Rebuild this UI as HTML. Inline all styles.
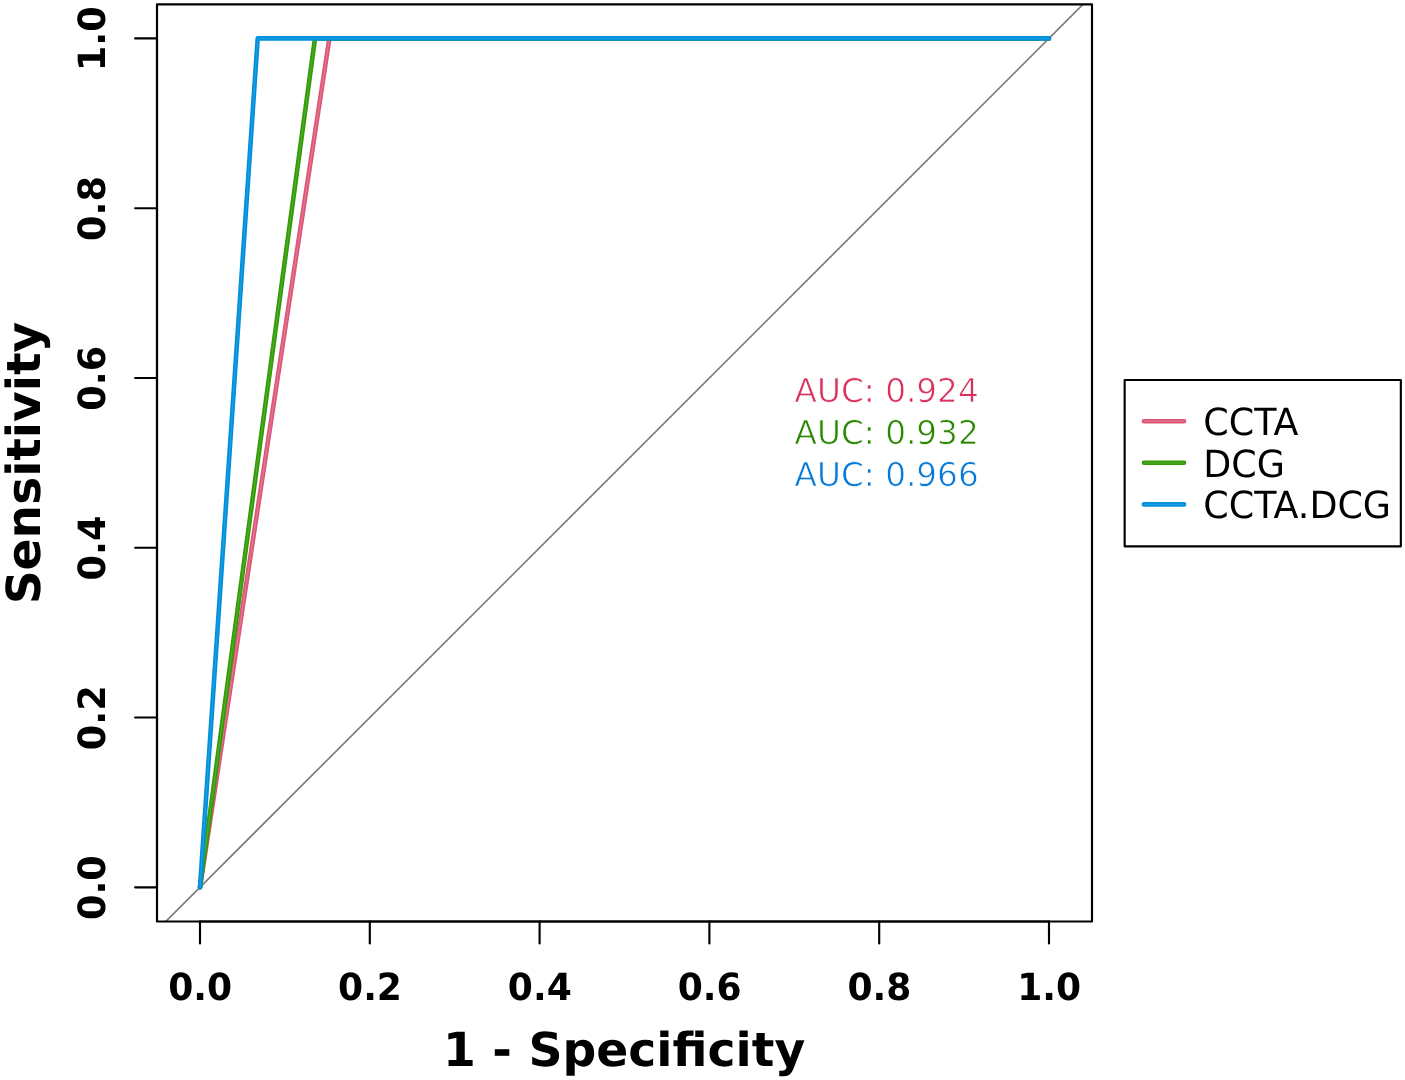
<!DOCTYPE html>
<html lang="en"><head><meta charset="utf-8"><title>ROC curves</title>
<style>
html,body{margin:0;padding:0;background:#fff;}
body{width:1405px;height:1080px;overflow:hidden;}
svg{display:block;}
text{font-family:"DejaVu Sans","Liberation Sans",sans-serif;text-rendering:geometricPrecision;}
.b{font-weight:bold;}
.ax{stroke:#000;stroke-width:2.15;stroke-linecap:round;fill:none;}
</style></head><body>
<svg width="1405" height="1080" viewBox="0 0 1405 1080">
<rect x="0" y="0" width="1405" height="1080" fill="#ffffff"/>
<defs><clipPath id="pc"><rect x="157.0" y="4.3" width="935.0" height="917.2"/></clipPath></defs>
<g clip-path="url(#pc)"><line x1="140.0" y1="947.3" x2="1109.0" y2="-21.6" stroke="#7c7c7c" stroke-width="1.7"/></g>
<polyline points="200.0,887.3 329.4,38.4 1049.0,38.4" fill="none" stroke="#DB5577" stroke-width="4.6" stroke-linecap="round" stroke-linejoin="round"/>
<polyline points="200.0,887.3 329.4,38.4 1049.0,38.4" fill="none" stroke="#E88DA5" stroke-width="1.3" stroke-opacity="0.6" stroke-linecap="round" stroke-linejoin="round"/>
<polyline points="200.0,887.3 315.0,38.4 1049.0,38.4" fill="none" stroke="#319A06" stroke-width="4.6" stroke-linecap="round" stroke-linejoin="round"/>
<polyline points="200.0,887.3 315.0,38.4 1049.0,38.4" fill="none" stroke="#66B83C" stroke-width="1.3" stroke-opacity="0.6" stroke-linecap="round" stroke-linejoin="round"/>
<polyline points="200.0,887.3 257.7,38.4 1049.0,38.4" fill="none" stroke="#028FDA" stroke-width="4.6" stroke-linecap="round" stroke-linejoin="round"/>
<polyline points="200.0,887.3 257.7,38.4 1049.0,38.4" fill="none" stroke="#2FA6E6" stroke-width="1.3" stroke-opacity="0.6" stroke-linecap="round" stroke-linejoin="round"/>
<rect class="ax" x="157.0" y="4.3" width="935.0" height="917.2" stroke-linejoin="round"/>
<line class="ax" x1="200.0" y1="921.5" x2="1049.0" y2="921.5"/>
<line class="ax" x1="157.0" y1="887.3" x2="157.0" y2="38.4"/>
<line class="ax" x1="200.0" y1="921.5" x2="200.0" y2="943.4"/>
<line class="ax" x1="157.0" y1="887.3" x2="135.1" y2="887.3"/>
<line class="ax" x1="369.8" y1="921.5" x2="369.8" y2="943.4"/>
<line class="ax" x1="157.0" y1="717.5" x2="135.1" y2="717.5"/>
<line class="ax" x1="539.6" y1="921.5" x2="539.6" y2="943.4"/>
<line class="ax" x1="157.0" y1="547.7" x2="135.1" y2="547.7"/>
<line class="ax" x1="709.4" y1="921.5" x2="709.4" y2="943.4"/>
<line class="ax" x1="157.0" y1="378.0" x2="135.1" y2="378.0"/>
<line class="ax" x1="879.2" y1="921.5" x2="879.2" y2="943.4"/>
<line class="ax" x1="157.0" y1="208.2" x2="135.1" y2="208.2"/>
<line class="ax" x1="1049.0" y1="921.5" x2="1049.0" y2="943.4"/>
<line class="ax" x1="157.0" y1="38.4" x2="135.1" y2="38.4"/>
<text class="b" transform="translate(200.2,1000.3) scale(0.962,1)" font-size="37.5" text-anchor="middle">0.0</text>
<text class="b" transform="translate(104.5,887.6) rotate(-90) scale(0.978,1)" font-size="37.5" text-anchor="middle">0.0</text>
<text class="b" transform="translate(370.0,1000.3) scale(0.962,1)" font-size="37.5" text-anchor="middle">0.2</text>
<text class="b" transform="translate(104.5,717.8) rotate(-90) scale(0.978,1)" font-size="37.5" text-anchor="middle">0.2</text>
<text class="b" transform="translate(539.8,1000.3) scale(0.962,1)" font-size="37.5" text-anchor="middle">0.4</text>
<text class="b" transform="translate(104.5,548.0) rotate(-90) scale(0.978,1)" font-size="37.5" text-anchor="middle">0.4</text>
<text class="b" transform="translate(709.6,1000.3) scale(0.962,1)" font-size="37.5" text-anchor="middle">0.6</text>
<text class="b" transform="translate(104.5,378.3) rotate(-90) scale(0.978,1)" font-size="37.5" text-anchor="middle">0.6</text>
<text class="b" transform="translate(879.4,1000.3) scale(0.962,1)" font-size="37.5" text-anchor="middle">0.8</text>
<text class="b" transform="translate(104.5,208.5) rotate(-90) scale(0.978,1)" font-size="37.5" text-anchor="middle">0.8</text>
<text class="b" transform="translate(1049.2,1000.3) scale(0.962,1)" font-size="37.5" text-anchor="middle">1.0</text>
<text class="b" transform="translate(104.5,38.7) rotate(-90) scale(0.978,1)" font-size="37.5" text-anchor="middle">1.0</text>
<text class="b" transform="translate(624.1,1065.5) scale(1.008,1)" font-size="46.9" text-anchor="middle">1 - Specificity</text>
<text class="b" transform="translate(40,463.1) rotate(-90) scale(1.005,1)" font-size="46.9" text-anchor="middle">Sensitivity</text>
<text transform="translate(794.6,402) scale(0.994,1)" font-size="32.9" fill="#D8335C" stroke="#fff" stroke-width="0.7">AUC: 0.924</text>
<text transform="translate(794.6,444) scale(0.994,1)" font-size="32.9" fill="#2B8702" stroke="#fff" stroke-width="0.7">AUC: 0.932</text>
<text transform="translate(794.6,486) scale(0.994,1)" font-size="32.9" fill="#0779D7" stroke="#fff" stroke-width="0.7">AUC: 0.966</text>
<rect x="1124.65" y="379.95" width="276.20" height="166.35" fill="#fff" stroke="#000" stroke-width="2.15" stroke-linejoin="round"/>
<line x1="1144" y1="421.2" x2="1184" y2="421.2" stroke="#DB5577" stroke-width="4.6" stroke-linecap="round"/>
<line x1="1144" y1="421.2" x2="1184" y2="421.2" stroke="#E88DA5" stroke-width="1.3" stroke-opacity="0.6" stroke-linecap="round"/>
<text transform="translate(1203.3,435.1) scale(0.971,1)" font-size="37.5">CCTA</text>
<line x1="1144" y1="462.8" x2="1184" y2="462.8" stroke="#319A06" stroke-width="4.6" stroke-linecap="round"/>
<line x1="1144" y1="462.8" x2="1184" y2="462.8" stroke="#66B83C" stroke-width="1.3" stroke-opacity="0.6" stroke-linecap="round"/>
<text transform="translate(1203.3,476.7) scale(0.971,1)" font-size="37.5">DCG</text>
<line x1="1144" y1="504.4" x2="1184" y2="504.4" stroke="#028FDA" stroke-width="4.6" stroke-linecap="round"/>
<line x1="1144" y1="504.4" x2="1184" y2="504.4" stroke="#2FA6E6" stroke-width="1.3" stroke-opacity="0.6" stroke-linecap="round"/>
<text transform="translate(1203.3,518.3) scale(0.971,1)" font-size="37.5">CCTA.DCG</text>
</svg>
</body></html>
